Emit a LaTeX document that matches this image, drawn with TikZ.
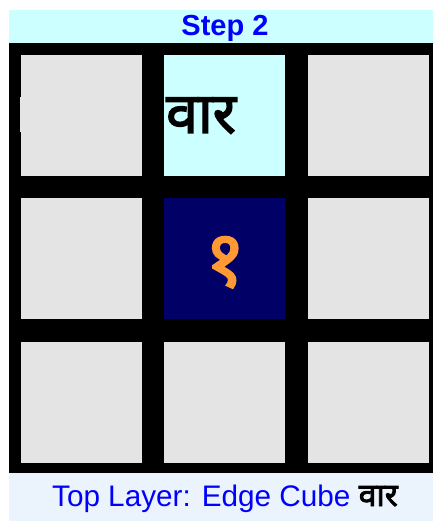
\documentclass[tikz,border=0pt]{standalone}
\usepackage{fontspec}
\setmainfont{Liberation Sans}
\newfontfamily\devfont[Script=Devanagari, FakeBold=2.5]{Noto Sans}
\definecolor{bandcyan}{HTML}{CCFFFF}
\definecolor{cellgray}{HTML}{E4E4E4}
\definecolor{navy}{HTML}{000066}
\definecolor{saffron}{HTML}{FF9933}
\definecolor{footblue}{HTML}{EBF4FC}
\definecolor{txtblue}{HTML}{0000FF}
\tikzset{
  cell/.style={fill=cellgray, draw=none},
}
\begin{document}
\begin{tikzpicture}[x=1pt,y=-1pt]
\useasboundingbox (0,0) rectangle (433,521);
% bands
\fill[bandcyan] (9,10) rectangle (433,43);
\fill[black] (9,43) rectangle (433,473);
\fill[footblue] (9,473) rectangle (433,521);
% cells
\fill[cell] (21,55) rectangle (142,176);
\fill[bandcyan] (164,55) rectangle (285,176);
\fill[cell] (308,55) rectangle (429,176);
\fill[cell] (21,198) rectangle (142,319);
\fill[navy] (164,198) rectangle (285,319);
\fill[cell] (308,198) rectangle (429,319);
\fill[cell] (21,342) rectangle (142,463);
\fill[cell] (164,342) rectangle (285,463);
\fill[cell] (308,342) rectangle (429,463);
\fill[cell] (19.7,97) rectangle (21,132);
% texts
\node[anchor=base, text=txtblue, font=\fontsize{29}{31}\selectfont\bfseries, inner sep=0] (title) at (225,36) {Step 2};
\node[anchor=base west, inner sep=0, font=\devfont\fontsize{57}{59}\selectfont] (word) at (166,133) {वार};
\node[anchor=base, inner sep=0, text=saffron, font=\devfont\fontsize{78}{80}\selectfont] (digit) at (225,286) {१};
\node[anchor=base, inner sep=0, font=\fontsize{29.7}{31}\selectfont] (foot) at (225,506) {\textcolor{txtblue}{Top Layer: Edge Cube} {\devfont\fontsize{32}{34}\selectfont वार}};
\end{tikzpicture}
\end{document}
